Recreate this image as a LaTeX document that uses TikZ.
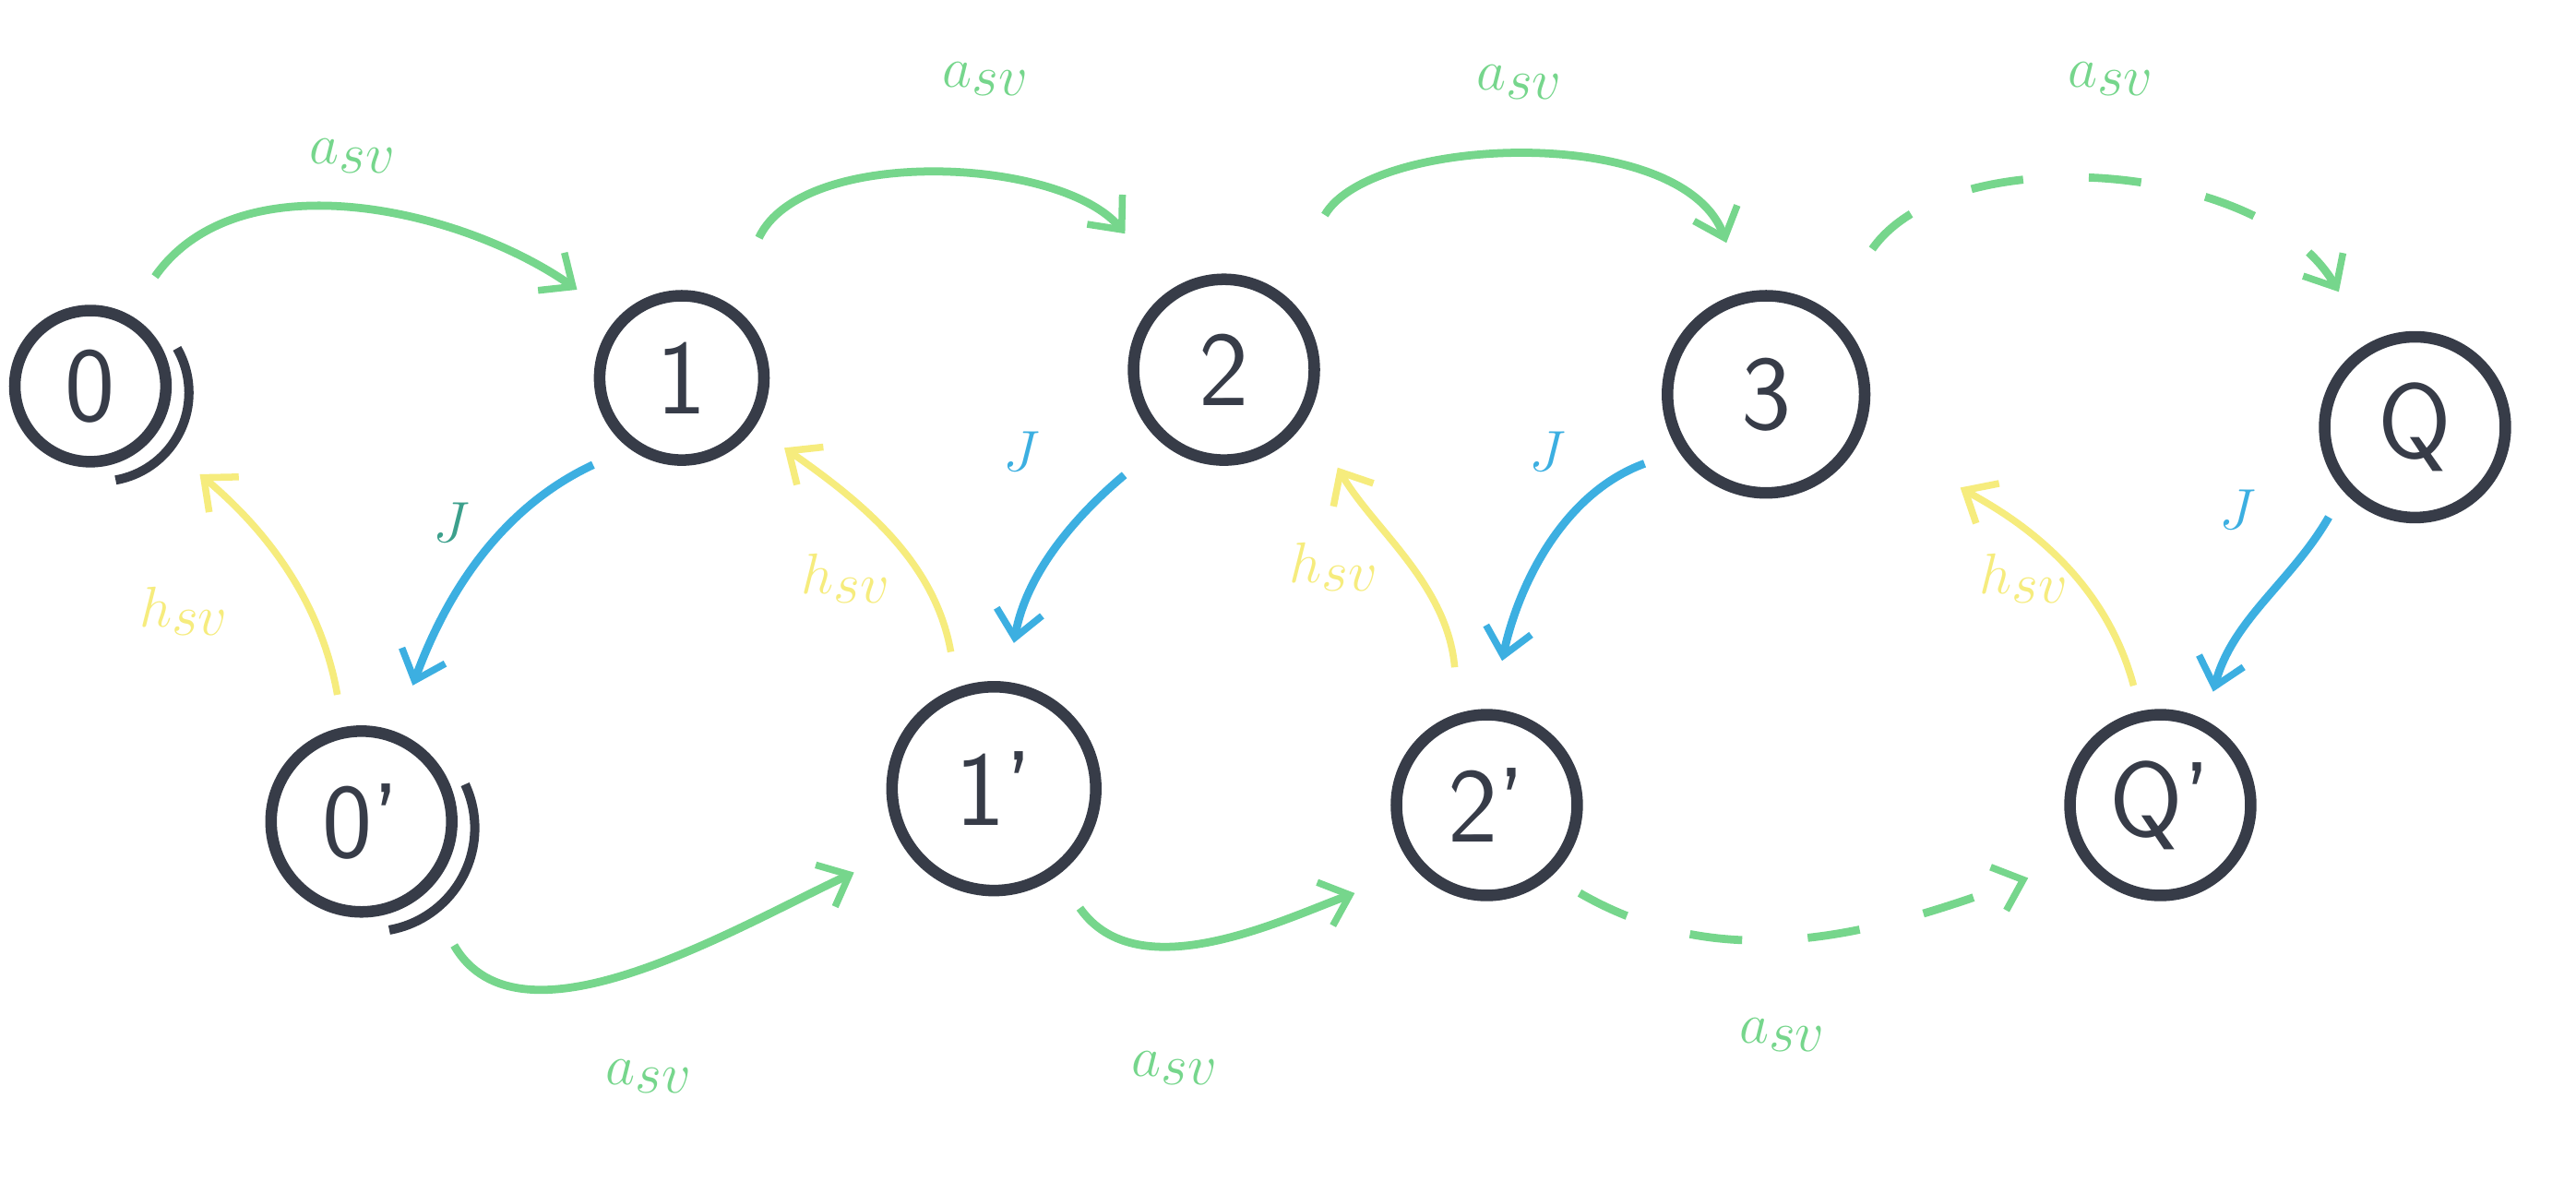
\documentclass[tikz,border=0pt]{standalone}
\usetikzlibrary{arrows.meta}
\definecolor{gr}{RGB}{118,214,140}
\definecolor{bl}{RGB}{60,175,225}
\definecolor{yl}{RGB}{246,236,125}
\definecolor{ink}{RGB}{55,60,72}
\definecolor{tl}{RGB}{60,160,140}
\begin{document}
\begin{tikzpicture}[x=0.025cm,y=0.025cm,
  st/.style={circle, draw=ink, line width=5pt, inner sep=0pt, text=ink,
    font=\fontsize{46}{52}\selectfont\sffamily},
  tip/.style={-{Straight Barb[length=4mm,width=7mm,line width=3pt]}},
  ga/.style={draw=gr, line width=3.5pt, tip},
  gd/.style={ga, dash pattern=on 8mm off 10mm},
  ba/.style={draw=bl, line width=3.5pt, tip},
  ya/.style={draw=yl, line width=3pt, tip},
  gl/.style={text=gr, font=\fontsize{40}{44}\selectfont},
  bll/.style={text=bl, font=\fontsize{36}{40}\selectfont},
  yll/.style={text=yl, font=\fontsize{34}{40}\selectfont},
]
\useasboundingbox[fill=white] (0,0) rectangle (1568,-719);

% states
\node[st, minimum size=2.3cm]  (n0)  at (55,-235)   {0};
\node[st, minimum size=2.5cm]  (n1)  at (415,-230)  {1};
\node[st, minimum size=2.75cm] (n2)  at (745,-225)  {2};
\node[st, minimum size=3cm]    (n3)  at (1075,-240) {3};
\node[st, minimum size=2.75cm] (nQ)  at (1470,-260) {Q};
\node[st, minimum size=2.75cm] (n0p) at (220,-500)  {0\textquoteright};
\node[st, minimum size=3.1cm]  (n1p) at (605,-480)  {1\textquoteright};
\node[st, minimum size=2.75cm] (n2p) at (905,-490)  {2\textquoteright};
\node[st, minimum size=2.75cm] (nQp) at (1315,-490) {Q\textquoteright};

% double edges of the start states
\draw[ink, line width=4pt] ([shift={(6,-4)}]n0.center) ++(30:54) arc[start angle=30, end angle=-80, radius=54];
\draw[ink, line width=4pt] ([shift={(6,-4)}]n0p.center) ++(25:63) arc[start angle=25, end angle=-80, radius=63];

% top green transitions
\draw[ga, shorten <=0.7cm, shorten >=0.75cm] (n0.62) to[out=55, in=145] (n1.137);
\draw[ga, shorten <=1.1cm, shorten >=1.1cm] (n1.58) to[out=65, in=130] (n2.123);
\draw[ga, shorten <=1.35cm, shorten >=0.8cm] (n2.54) to[out=60, in=110] (n3.102);
\draw[gd, shorten <=1.15cm, shorten >=0.9cm] (n3.53) to[out=55, in=120] (nQ.119);
\node[gl] (l01) at (215,-95) {$a_{sv}$};
\node[gl] (l12) at (600,-48) {$a_{sv}$};
\node[gl] (l23) at (925,-50) {$a_{sv}$};
\node[gl] (l3Q) at (1285,-48) {$a_{sv}$};

% blue J transitions
\draw[ba, shorten <=0.6cm, shorten >=0.75cm] (n1.233) to[out=205, in=70] (n0p.69);
\draw[ba, shorten <=0.75cm, shorten >=0.6cm] (n2.230) to[out=220, in=80] (n1p.83);
\draw[ba, shorten <=0.55cm, shorten >=0.75cm] (n3.213) to[out=200, in=78] (n2p.87);
\draw[ba, shorten <=0.45cm, shorten >=0.45cm] (nQ.222) to[out=240, in=75] (nQp.62);
\node[bll, text=tl] (j1) at (275,-318) {$J$};
\node[bll] (j2) at (622,-275) {$J$};
\node[bll] (j3) at (942,-275) {$J$};
\node[bll] (jQ) at (1362,-310) {$J$};

% yellow h transitions
\draw[ya, shorten <=0.5cm, shorten >=0.9cm] (n0p.101) to[out=100, in=-40] (n0.-38);
\draw[ya, shorten <=0.55cm, shorten >=0.55cm] (n1p.110) to[out=100, in=-35] (n1.-34);
\draw[ya, shorten <=0.7cm, shorten >=0.9cm] (n2p.107) to[out=95, in=-60] (n2.-29);
\draw[ya, shorten <=0.4cm, shorten >=1.7cm] (nQp.102) to[out=105, in=-30] (n3.-21);
\node[yll] (h0) at (112,-372) {$h_{sv}$};
\node[yll] (h1) at (515,-352) {$h_{sv}$};
\node[yll] (h2) at (812,-345) {$h_{sv}$};
\node[yll] (hQ) at (1232,-352) {$h_{sv}$};

% bottom green transitions
\draw[ga, shorten <=0.9cm, shorten >=0.85cm] (n0p.-49) to[out=-60, in=205] (n1p.214);
\draw[ga, shorten <=0.6cm, shorten >=1cm] (n1p.-54) to[out=-55, in=200] (n2p.223);
\draw[gd, shorten <=0.5cm, shorten >=0.85cm] (n2p.-48) to[out=-30, in=200] (nQp.214);
\node[gl] (b01) at (395,-655) {$a_{sv}$};
\node[gl] (b12) at (715,-650) {$a_{sv}$};
\node[gl] (b2Q) at (1085,-630) {$a_{sv}$};
\end{tikzpicture}
\end{document}
